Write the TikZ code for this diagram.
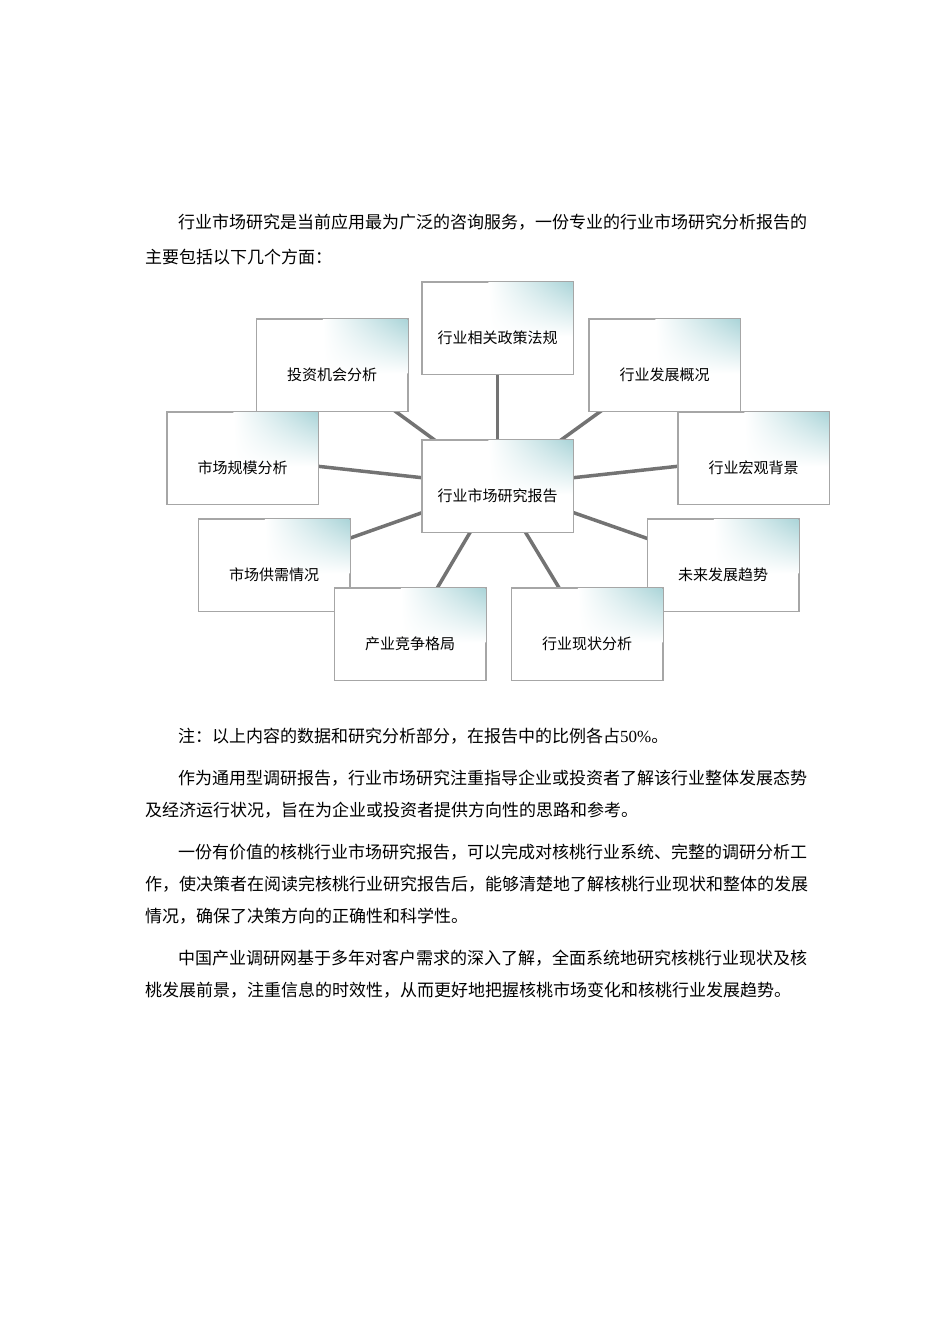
\documentclass[tikz,border=0pt]{standalone}
\usepackage{fontspec}
\usetikzlibrary{shadings}
\newfontfamily\cjk{Noto Sans CJK SC}
\setmainfont{Liberation Serif}
\definecolor{teal1}{RGB}{170,212,216}
\begin{document}
\begin{tikzpicture}[x=1pt,y=-1pt,
  txt/.style={anchor=west,inner sep=0pt,font=\cjk\fontsize{17}{19}\selectfont},
  box/.style={draw=black!35,line width=0.7pt,fill=white,minimum width=151pt,minimum height=92pt,inner sep=0pt},
  link/.style={draw=black!55,line width=3.5pt}]
\useasboundingbox (0,0) rectangle (950,1344);
\node[txt] at (178,222) {行业市场研究是当前应用最为广泛的咨询服务，一份专业的行业市场研究分析报告的};
\node[txt] at (145,257) {主要包括以下几个方面：};
\node[txt] at (178,736) {注：以上内容的数据和研究分析部分，在报告中的比例各占{\rmfamily 50\%}。};
\node[txt] at (178,778) {作为通用型调研报告，行业市场研究注重指导企业或投资者了解该行业整体发展态势};
\node[txt] at (145,810) {及经济运行状况，旨在为企业或投资者提供方向性的思路和参考。};
\node[txt] at (178,852) {一份有价值的核桃行业市场研究报告，可以完成对核桃行业系统、完整的调研分析工};
\node[txt] at (145,884) {作，使决策者在阅读完核桃行业研究报告后，能够清楚地了解核桃行业现状和整体的发展};
\node[txt] at (145,916) {情况，确保了决策方向的正确性和科学性。};
\node[txt] at (178,958) {中国产业调研网基于多年对客户需求的深入了解，全面系统地研究核桃行业现状及核};
\node[txt] at (145,990) {桃发展前景，注重信息的时效性，从而更好地把握核桃市场变化和核桃行业发展趋势。};
\coordinate (pc) at (497.5,486);
\coordinate (p1) at (497.5,328);
\coordinate (p2) at (332,365);
\coordinate (p3) at (664.5,365);
\coordinate (p4) at (242.5,458);
\coordinate (p5) at (753.5,458);
\coordinate (p6) at (274,565);
\coordinate (p7) at (723,565);
\coordinate (p8) at (410,634);
\coordinate (p9) at (587,634);
\foreach \i in {1,...,9} \draw[link] (pc) -- (p\i);
\foreach \i/\t in {1/行业相关政策法规,2/投资机会分析,3/行业发展概况,4/市场规模分析,5/行业宏观背景,6/市场供需情况,7/未来发展趋势,8/产业竞争格局,9/行业现状分析,c/行业市场研究报告}{
  \node[box] (b\i) at (p\i) {};
  \shade[upper right=teal1,upper left=white,lower left=white,lower right=white]
    ([xshift=-85pt,yshift=-0.5pt]b\i.north east) rectangle ([xshift=-0.5pt,yshift=-55pt]b\i.north east);
  \draw[draw=black!35,line width=0.7pt] (b\i.south west) rectangle (b\i.north east);
  \node[inner sep=0pt,font=\cjk\fontsize{15}{17}\selectfont] at ([yshift=-10pt]b\i.center) {\t};
}
\end{tikzpicture}
\end{document}
